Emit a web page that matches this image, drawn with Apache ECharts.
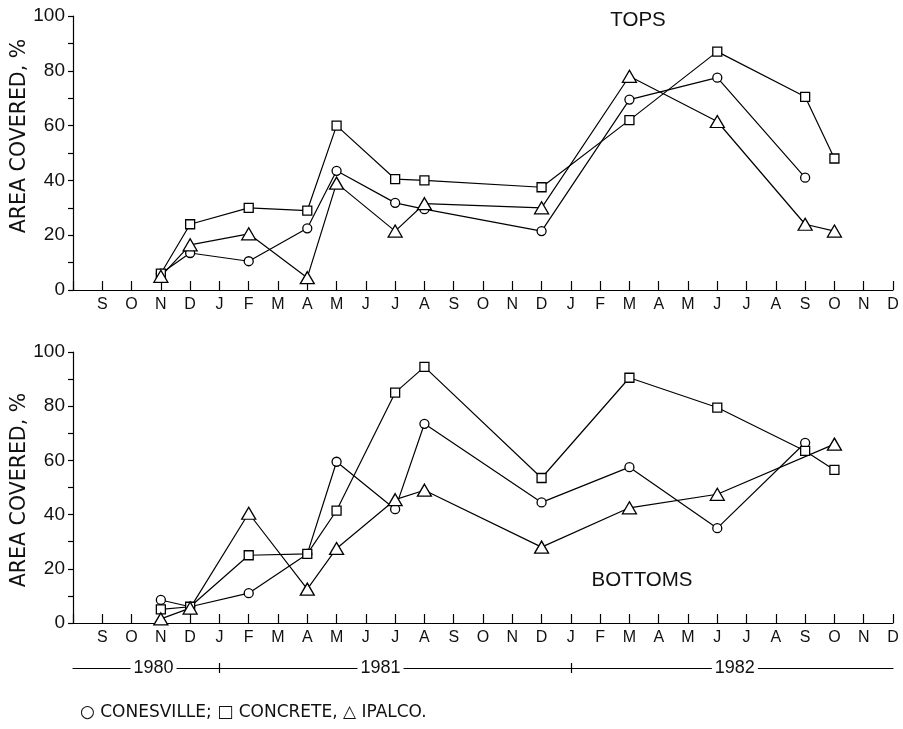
<!DOCTYPE html>
<html>
<head>
<meta charset="utf-8">
<script src="https://cdn.jsdelivr.net/npm/echarts@6/dist/echarts.min.js"></script>
<style>html,body{margin:0;padding:0;background:#fff}#c{width:903px;height:729px}</style>
</head>
<body>
<div id="c"></div>
<script>
// Month tick labels (index 0 = Sep 1980 ... 27 = Dec 1982)
var months = ['S','O','N','D','J','F','M','A','M','J','J','A','S','O','N','D','J','F','M','A','M','J','J','A','S','O','N','D'];
var yearLabels = ['1980','1981','1982'];
var yearLabelPos = [1.75, 9.5, 21.6];
var yearTickPos = [4, 16];

// TOPS
var topsConesvilleIdx = [2,3,5,7,8,10,11,15,18,21,24];
var topsConesville    = [6,13.5,10.5,22.5,43.5,31.8,29.5,21.5,69.5,77.5,41];
var topsConcreteIdx   = [2,3,5,7,8,10,11,15,18,21,24,25];
var topsConcrete      = [6,24,30,29,60,40.5,40,37.5,62,87,70.5,48];
var topsIpalcoIdx     = [2,3,5,7,8,10,11,15,18,21,24,25];
var topsIpalco        = [5,16.5,20.5,4.5,39,21.5,31.5,30,78,61.5,24,21.5];

// BOTTOMS
var botConesvilleIdx = [2,3,5,7,8,10,11,15,18,21,24];
var botConesville    = [8.5,6,11,25.5,59.5,42,73.5,44.5,57.5,35,66.5];
var botConcreteIdx   = [2,3,5,7,8,10,11,15,18,21,24,25];
var botConcrete      = [5,6,25,25.5,41.5,85,94.5,53.5,90.5,79.5,63.5,56.5];
var botIpalcoIdx     = [2,3,5,7,8,10,11,15,18,21,25];
var botIpalco        = [1.5,5.5,40.5,12.5,27.5,45.5,49,28,42.5,47.5,66];

var FONT = "'Liberation Sans', Arial, sans-serif";
var FONT2 = "'DejaVu Sans', 'Liberation Sans', sans-serif";
function pairs(ix, v){ return ix.map(function(x,i){ return [x, v[i]]; }); }

function monthAxis(g){
  return {
    type:'value', gridIndex:g, min:-1, max:27, interval:1,
    axisLine:{show:true, onZero:false, lineStyle:{color:'#000', width:1.2}},
    axisTick:{show:true, inside:true, length:9, lineStyle:{color:'#000', width:1.2}},
    axisLabel:{margin:7, color:'#111', fontSize:16, fontFamily:FONT,
      formatter:function(v){ return months[v] || ''; }},
    splitLine:{show:false}
  };
}
function valAxis(g){
  return {
    type:'value', gridIndex:g, min:0, max:100, interval:10,
    axisLine:{show:true, onZero:false, lineStyle:{color:'#000', width:1.2}},
    axisTick:{show:true, inside:false, length:5, lineStyle:{color:'#000', width:1.2}},
    axisLabel:{margin:8, color:'#111', fontSize:19, fontFamily:FONT,
      formatter:function(v){ return v % 20 === 0 ? String(v) : ''; }},
    splitLine:{show:false}
  };
}
function yearAxis(inside, showLabel){
  return {
    type:'value', gridIndex:1, min:-1, max:27, position:'bottom', offset:45,
    axisLine:{show:showLabel, onZero:false, lineStyle:{color:'#000', width:1.2}},
    axisTick:{show:true, inside:inside, length:5, customValues:yearTickPos, lineStyle:{color:'#000', width:1.2}},
    axisLabel:{show:showLabel, customValues:yearLabelPos, margin:0, verticalAlign:'middle',
      color:'#111', fontSize:18, fontFamily:FONT, backgroundColor:'#fff', padding:[0,3],
      formatter:function(v){ var i = yearLabelPos.indexOf(v); return i >= 0 ? yearLabels[i] : ''; }},
    splitLine:{show:false}
  };
}
function line(data, sym, size, xi, yi){
  return {
    type:'line', data:data, xAxisIndex:xi, yAxisIndex:yi,
    symbol:sym, symbolSize:size, showSymbol:true, showAllSymbol:true,
    lineStyle:{color:'#000', width:1.2},
    itemStyle:{color:'#fff', borderColor:'#000', borderWidth:1.3},
    z: 3
  };
}

var chart = echarts.init(document.getElementById('c'), null, {renderer:'canvas'});
chart.setOption({
  animation:false,
  backgroundColor:'#fff',
  grid:[
    {left:73, top:16, width:820, height:274},
    {left:73, top:352, width:820, height:271}
  ],
  xAxis:[monthAxis(0), monthAxis(1), yearAxis(true, true), yearAxis(false, false)],
  yAxis:[valAxis(0), valAxis(1)],
  series:[
    line(pairs(topsConesvilleIdx, topsConesville), 'circle', 9, 0, 0),
    line(pairs(topsConcreteIdx, topsConcrete), 'rect', 9, 0, 0),
    line(pairs(topsIpalcoIdx, topsIpalco), 'triangle', [14,12], 0, 0),
    line(pairs(botConesvilleIdx, botConesville), 'circle', 9, 1, 1),
    line(pairs(botConcreteIdx, botConcrete), 'rect', 9, 1, 1),
    line(pairs(botIpalcoIdx, botIpalco), 'triangle', [14,12], 1, 1)
  ],
  graphic:[
    {type:'text', x:20, y:136, rotation:Math.PI/2,
      style:{text:'AREA COVERED, %', fill:'#111', font:'20.5px ' + FONT2, textAlign:'center', textVerticalAlign:'middle'}},
    {type:'text', x:20, y:490, rotation:Math.PI/2,
      style:{text:'AREA COVERED, %', fill:'#111', font:'20.5px ' + FONT2, textAlign:'center', textVerticalAlign:'middle'}},
    {type:'text', x:638, y:20,
      style:{text:'TOPS', fill:'#111', font:'20.5px ' + FONT, textAlign:'center', textVerticalAlign:'middle'}},
    {type:'text', x:642, y:580,
      style:{text:'BOTTOMS', fill:'#111', font:'20.5px ' + FONT, textAlign:'center', textVerticalAlign:'middle'}},
    {type:'text', x:80, y:713,
      style:{text:'○ CONESVILLE; □ CONCRETE, △ IPALCO.', fill:'#111', font:'17px ' + FONT2, textAlign:'left', textVerticalAlign:'middle'}}
  ]
});
</script>
</body>
</html>
